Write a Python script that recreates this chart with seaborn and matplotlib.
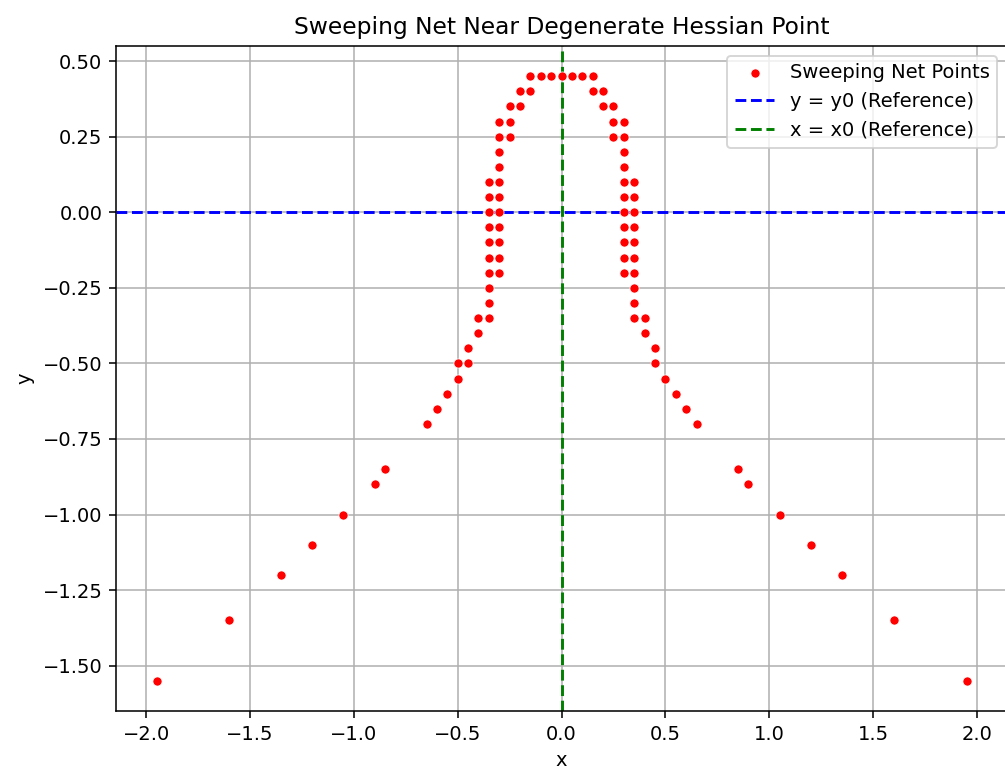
import matplotlib
matplotlib.use("Agg")
import matplotlib.pyplot as plt
import seaborn as sns
import pandas as pd

# Sweeping-net sample points (x, y)
net_x = [
    -0.15, -0.10, -0.05, 0.00, 0.05, 0.10, 0.15,
    -0.20, -0.15, 0.15, 0.20,
    -0.25, -0.20, 0.20, 0.25,
    -0.30, -0.25, 0.25, 0.30,
    -0.30, -0.25, 0.25, 0.30,
    -0.30, 0.30,
    -0.30, 0.30,
    -0.35, -0.30, 0.30, 0.35,
    -0.35, -0.30, 0.30, 0.35,
    -0.35, -0.30, 0.30, 0.35,
    -0.35, -0.30, 0.30, 0.35,
    -0.35, -0.30, 0.30, 0.35,
    -0.35, -0.30, 0.30, 0.35,
    -0.35, -0.30, 0.30, 0.35,
    -0.35, 0.35,
    -0.35, 0.35,
    -0.40, -0.35, 0.35, 0.40,
    -0.40, 0.40,
    -0.45, 0.45,
    -0.50, -0.45, 0.45,
    -0.50, 0.50,
    -0.55, 0.55,
    -0.60, 0.60,
    -0.65, 0.65,
    -0.85, 0.85,
    -0.90, 0.90,
    -1.05, 1.05,
    -1.20, 1.20,
    -1.35, 1.35,
    -1.60, 1.60,
    -1.95, 1.95,
]
net_y = [
    0.45, 0.45, 0.45, 0.45, 0.45, 0.45, 0.45,
    0.40, 0.40, 0.40, 0.40,
    0.35, 0.35, 0.35, 0.35,
    0.30, 0.30, 0.30, 0.30,
    0.25, 0.25, 0.25, 0.25,
    0.20, 0.20,
    0.15, 0.15,
    0.10, 0.10, 0.10, 0.10,
    0.05, 0.05, 0.05, 0.05,
    0.00, 0.00, 0.00, 0.00,
    -0.05, -0.05, -0.05, -0.05,
    -0.10, -0.10, -0.10, -0.10,
    -0.15, -0.15, -0.15, -0.15,
    -0.20, -0.20, -0.20, -0.20,
    -0.25, -0.25,
    -0.30, -0.30,
    -0.35, -0.35, -0.35, -0.35,
    -0.40, -0.40,
    -0.45, -0.45,
    -0.50, -0.50, -0.50,
    -0.55, -0.55,
    -0.60, -0.60,
    -0.65, -0.65,
    -0.70, -0.70,
    -0.85, -0.85,
    -0.90, -0.90,
    -1.00, -1.00,
    -1.10, -1.10,
    -1.20, -1.20,
    -1.35, -1.35,
    -1.55, -1.55,
]

# Reference point
x0 = 0.0
y0 = 0.0

df = pd.DataFrame({"x": net_x, "y": net_y})

DPI = 140
fig = plt.figure(figsize=(1005 / DPI, 773 / DPI), dpi=DPI)
ax = fig.add_axes([116 / 1005, 62 / 773, 891 / 1005, 665 / 773])

sns.scatterplot(data=df, x="x", y="y", color="red", s=22,
                label="Sweeping Net Points", ax=ax, zorder=3)
ax.axhline(y0, color="blue", linestyle="--", label="y = y0 (Reference)")
ax.axvline(x0, color="green", linestyle="--", label="x = x0 (Reference)")

ax.set_title("Sweeping Net Near Degenerate Hessian Point")
ax.set_xlabel("x")
ax.set_ylabel("y")
ax.grid(True)
ax.legend(loc="upper right")

fig.savefig("out.png", dpi=DPI)
